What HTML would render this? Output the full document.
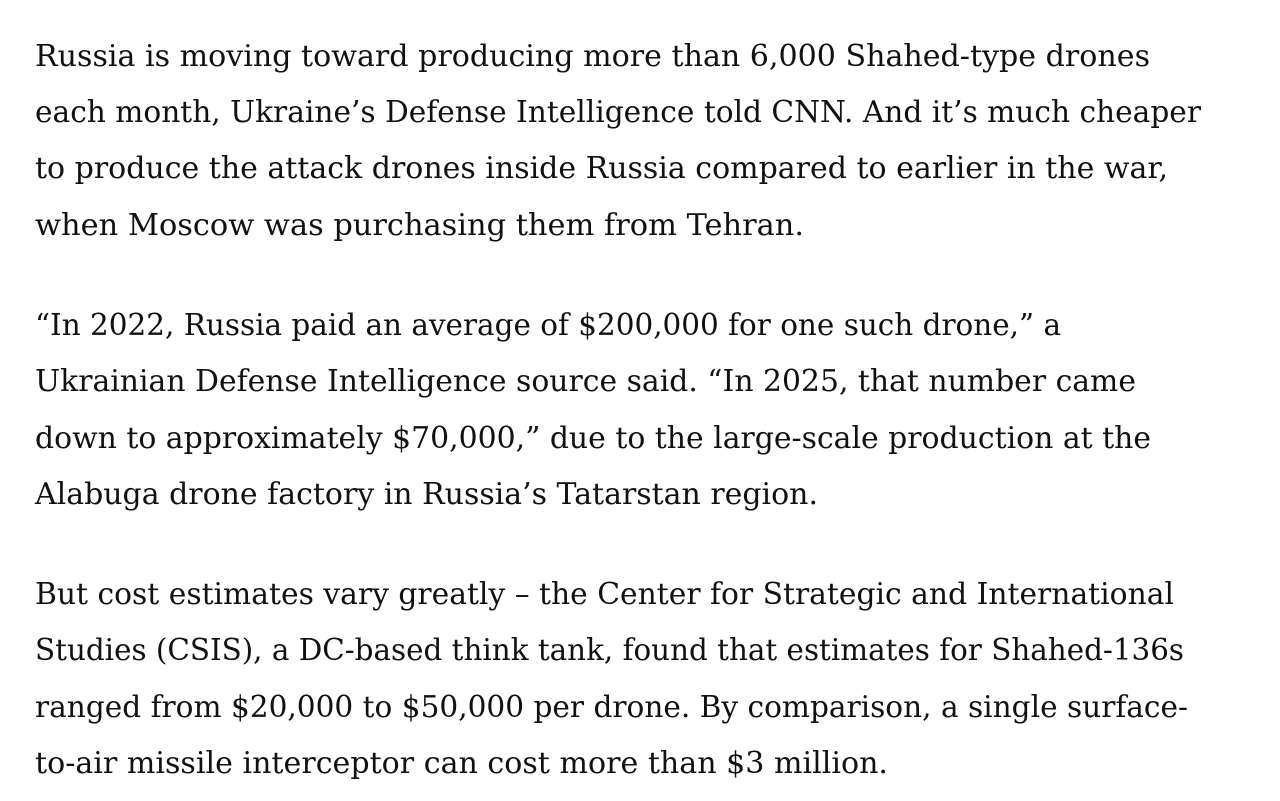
<!DOCTYPE html>
<html><head><meta charset="utf-8"><style>
html,body{margin:0;padding:0;background:#fff;width:1280px;height:801px;overflow:hidden}
text{font-family:"DejaVu Serif","Liberation Serif",serif;font-size:30px;fill:#111}
</style></head><body>
<svg width="1280" height="801" xmlns="http://www.w3.org/2000/svg">
<text x="35" y="66" textLength="1115" lengthAdjust="spacingAndGlyphs">Russia is moving toward producing more than 6,000 Shahed-type drones</text>
<text x="35" y="122" textLength="1166" lengthAdjust="spacingAndGlyphs">each month, Ukraine’s Defense Intelligence told CNN. And it’s much cheaper</text>
<text x="35" y="178" textLength="1133" lengthAdjust="spacingAndGlyphs">to produce the attack drones inside Russia compared to earlier in the war,</text>
<text x="35" y="235" textLength="769" lengthAdjust="spacingAndGlyphs">when Moscow was purchasing them from Tehran.</text>
<text x="35" y="335" textLength="1026" lengthAdjust="spacingAndGlyphs">“In 2022, Russia paid an average of $200,000 for one such drone,” a</text>
<text x="35" y="391" textLength="1101" lengthAdjust="spacingAndGlyphs">Ukrainian Defense Intelligence source said. “In 2025, that number came</text>
<text x="35" y="448" textLength="1116" lengthAdjust="spacingAndGlyphs">down to approximately $70,000,” due to the large-scale production at the</text>
<text x="35" y="504" textLength="783" lengthAdjust="spacingAndGlyphs">Alabuga drone factory in Russia’s Tatarstan region.</text>
<text x="35" y="604" textLength="1139" lengthAdjust="spacingAndGlyphs">But cost estimates vary greatly – the Center for Strategic and International</text>
<text x="35" y="660" textLength="1149" lengthAdjust="spacingAndGlyphs">Studies (CSIS), a DC-based think tank, found that estimates for Shahed-136s</text>
<text x="35" y="717" textLength="1153" lengthAdjust="spacingAndGlyphs">ranged from $20,000 to $50,000 per drone. By comparison, a single surface-</text>
<text x="35" y="773" textLength="853" lengthAdjust="spacingAndGlyphs">to-air missile interceptor can cost more than $3 million.</text>
</svg>
</body></html>
